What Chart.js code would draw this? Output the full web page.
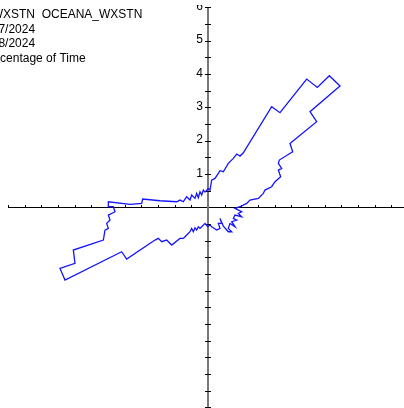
<!DOCTYPE html>
<html>
<head>
<meta charset="utf-8">
<script src="https://cdn.jsdelivr.net/npm/chart.js@4.4.1/dist/chart.umd.min.js"></script>
<style>
  html, body { margin: 0; padding: 0; background: #fff; overflow: hidden; }
  canvas { display: block; }
</style>
</head>
<body>
<canvas id="rose" width="404" height="408"></canvas>
<script>
// Wind rose outline: east and north components (percentage of time), traced clockwise from north
const eastPct = [0.01,0.06,0.11,0.21,0.31,0.36,0.46,0.61,0.76,0.86,0.96,1.06,
  1.91,2.16,2.96,3.28,3.64,3.96,3.06,3.26,2.46,2.54,2.14,2.11,2.21,2.11,2.18,
  2.01,1.91,1.71,1.66,1.51,1.26,1.16,0.96,0.81,
  1.01,0.91,1.01,0.81,0.76,0.86,0.71,0.81,0.66,0.61,0.71,0.61,
  0.46,0.36,0.41,0.31,0.36,0.26,0.11,0.06,
  -0.01,-0.09,-0.19,-0.24,-0.29,-0.34,-0.39,-0.44,-0.49,-0.54,-0.69,-0.74,-0.84,-1.09,-1.24,-1.39,-1.49,-1.59,
  -2.44,-2.59,-4.29,-4.44,-3.99,-4.04,-3.14,-3.09,-2.99,-3.04,-2.94,-2.99,-2.79,-2.84,-2.99,-2.99,
  -2.34,-1.99,-1.96,-1.44,-0.94,-0.84,-0.74,-0.64,-0.54,-0.49,-0.39,-0.34,-0.29,-0.24,-0.19,-0.14,-0.09,0.01];
const northPct = [0.57,0.52,0.82,0.87,1.02,1.10,1.07,1.32,1.47,1.60,1.54,1.64,
  3.02,2.84,3.85,3.60,3.95,3.64,2.87,2.57,1.92,1.67,1.42,1.32,1.17,1.12,0.92,
  0.77,0.62,0.52,0.42,0.27,0.22,0.12,0.02,-0.03,
  -0.13,-0.18,-0.28,-0.23,-0.33,-0.38,-0.43,-0.58,-0.48,-0.63,-0.73,-0.73,
  -0.56,-0.33,-0.48,-0.48,-0.63,-0.68,-0.58,-0.53,
  -0.58,-0.48,-0.58,-0.63,-0.58,-0.68,-0.61,-0.73,-0.63,-0.73,-0.88,-0.93,-0.93,-1.13,-0.98,-1.03,-0.93,-0.98,
  -1.55,-1.33,-2.18,-1.83,-1.68,-1.28,-0.98,-0.68,-0.63,-0.48,-0.38,-0.23,-0.13,0.02,0.02,0.17,
  0.09,0.12,0.25,0.20,0.17,0.22,0.17,0.32,0.22,0.37,0.27,0.42,0.29,0.47,0.37,0.52,0.46,0.57];

const headerLines = ['OCEANA_WXSTN  OCEANA_WXSTN', '6/27/2024', '6/28/2024', 'Percentage of Time'];
const yLabelValues = [1, 2, 3, 4, 5, 6];
const yTickLabels = ['1', '2', '3', '4', '5', '6'];
const axisLimit = 6;
const minorStep = 0.5;

const FONT = '12px "Liberation Sans", Arial, sans-serif';

const points = eastPct.map((e, i) => ({ x: e, y: northPct[i] }));

// Cross-shaped axes through the origin with half-unit tick marks
const crossAxes = {
  id: 'crossAxes',
  beforeDatasetsDraw(chart) {
    const { ctx, scales: { x, y }, chartArea } = chart;
    const x0 = Math.round(x.getPixelForValue(0));
    const y0 = Math.floor(y.getPixelForValue(0)) + 0.5;
    ctx.save();
    ctx.beginPath();
    ctx.rect(0, 5, chart.width, chart.height - 5);
    ctx.clip();

    // horizontal axis
    ctx.strokeStyle = '#000';
    ctx.lineWidth = 1;
    ctx.beginPath();
    ctx.moveTo(x.getPixelForValue(-axisLimit), y0);
    ctx.lineTo(chartArea.right, y0);
    const nSteps = Math.round(2 * axisLimit / minorStep);
    for (let i = 0; i <= nSteps; i++) {
      const v = -axisLimit + i * minorStep;
      if (v === 0 || v > x.max) continue;
      const px = Math.round(x.getPixelForValue(v)) + 0.5;
      ctx.moveTo(px, y0);
      ctx.lineTo(px, y0 - 2.5);
    }
    ctx.stroke();

    // vertical axis
    ctx.strokeStyle = '#777';
    ctx.lineWidth = 2;
    ctx.beginPath();
    ctx.moveTo(x0, y.getPixelForValue(axisLimit));
    ctx.lineTo(x0, y.getPixelForValue(-axisLimit) + 1);
    ctx.stroke();

    ctx.strokeStyle = '#000';
    ctx.lineWidth = 1;
    ctx.beginPath();
    for (let i = 0; i <= nSteps; i++) {
      const v = -axisLimit + i * minorStep;
      if (v === 0) continue;
      const py = Math.round(y.getPixelForValue(v)) + 0.5;
      ctx.moveTo(x0 - 3, py);
      ctx.lineTo(x0 + 3, py);
    }
    ctx.stroke();

    // value labels on the vertical axis
    ctx.fillStyle = '#000';
    ctx.font = FONT;
    ctx.textAlign = 'right';
    ctx.textBaseline = 'alphabetic';
    yLabelValues.forEach((v, i) => {
      ctx.fillText(yTickLabels[i], x0 - 5, y.getPixelForValue(v) + 2.5);
    });
    ctx.restore();
  },
  afterDraw(chart) {
    const { ctx } = chart;
    ctx.save();
    ctx.fillStyle = '#000';
    ctx.font = FONT;
    ctx.textAlign = 'left';
    ctx.textBaseline = 'alphabetic';
    const lineX = [-65.7, -18.3, -18.3, -18.6];
    headerLines.forEach((t, i) => {
      ctx.fillText(t, lineX[i], 18.3 + i * 14.5);
    });
    ctx.restore();
  }
};

new Chart(document.getElementById('rose'), {
  type: 'scatter',
  data: {
    datasets: [{
      data: points,
      showLine: true,
      borderColor: 'rgb(20,20,255)',
      borderWidth: 1.3,
      pointRadius: 0,
      pointHoverRadius: 0,
      fill: false,
      tension: 0
    }]
  },
  options: {
    responsive: false,
    animation: false,
    events: [],
    layout: { padding: { left: 8, right: 0, top: 7.4, bottom: 0.6 } },
    plugins: { legend: { display: false }, tooltip: { enabled: false } },
    scales: {
      x: { type: 'linear', display: false, min: -axisLimit, max: 5.88 },
      y: { type: 'linear', display: false, min: -axisLimit, max: axisLimit }
    }
  },
  plugins: [crossAxes]
});
</script>
</body>
</html>
